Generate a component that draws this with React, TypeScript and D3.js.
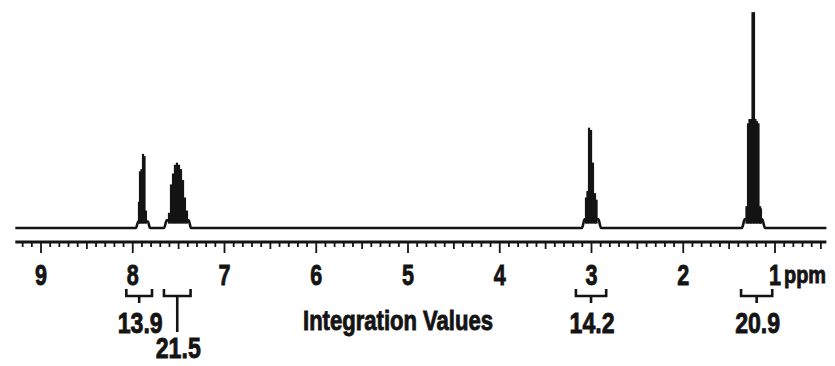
import * as d3 from "d3";
import { useEffect, useRef } from "react";

// axis labels
const tickValues = [9, 8, 7, 6, 5, 4, 3, 2, 1];
const unitLabel = "ppm";

// spectral lines (ppm, relative intensity, tallest = 100)
const linePpm = [
  7.932, 7.921, 7.905, 7.888, 7.872, 7.856,
  7.605, 7.583, 7.561, 7.54, 7.518, 7.496, 7.474, 7.452, 7.431, 7.409,
  3.06, 3.044, 3.027, 3.005, 2.984, 2.962, 2.945,
  1.311, 1.294, 1.278, 1.262, 1.245, 1.229, 1.213, 1.196, 1.18, 1.163, 1.153,
];
const lineHeight = [
  12, 26, 27, 34, 33, 8,
  7, 20, 25, 29, 30, 29, 27, 22, 14, 8,
  14, 17, 46, 45, 30, 16, 13,
  10, 48, 50, 50, 99, 99, 50, 49, 48, 10, 9,
];

// baseline trace with the small humps under each multiplet
const tracePpm = [9.28, 7.965, 7.94, 7.835, 7.812, 7.659, 7.63, 7.39, 7.365, 3.104, 3.075, 2.925, 2.896, 1.36, 1.33, 1.14, 1.109, 0.44];
const traceValue = [0, 0, 3, 3, 0, 0, 3.5, 3.5, 0, 0, 4, 4, 0, 0, 4, 4, 0, 0];

// integrals
const integralFrom = [8.07, 7.66, 3.17, 1.37];
const integralTo = [7.79, 7.37, 2.84, 1.03];
const integralValues = ["13.9", "21.5", "14.2", "20.9"];
const integralTitle = "Integration Values";

const App = () => {
  const svgRef = useRef<SVGSVGElement>(null);

  useEffect(() => {
    const width = 835;
    const height = 366;
    const ink = "#141414";
    const font = "'Liberation Sans', Arial, sans-serif";

    const x = d3.scaleLinear().domain([9, 1]).range([41, 775]);
    const y = d3.scaleLinear().domain([0, 100]).range([228, 10]);
    const axisY = 242;

    const svg = d3
      .select(svgRef.current)
      .attr("width", width)
      .attr("height", height)
      .attr("viewBox", [0, 0, width, height])
      .style("position", "absolute")
      .style("left", "0px")
      .style("top", "0px")
      .style("background", "#fff");

    svg.selectAll("*").remove();

    // baseline trace
    const trace = tracePpm.map((p, i) => [p, traceValue[i]] as [number, number]);
    svg
      .append("path")
      .datum(trace)
      .attr("fill", "none")
      .attr("stroke", ink)
      .attr("stroke-width", 2.6)
      .attr(
        "d",
        d3
          .line<[number, number]>()
          .x((d) => x(d[0]))
          .y((d) => y(d[1]))
          .curve(d3.curveMonotoneX)
      );

    // spectral lines
    svg
      .append("g")
      .attr("stroke", ink)
      .attr("stroke-width", 2.2)
      .selectAll("line")
      .data(linePpm)
      .join("line")
      .attr("x1", (d) => x(d))
      .attr("x2", (d) => x(d))
      .attr("y1", y(2))
      .attr("y2", (d, i) => y(lineHeight[i]));

    // axis
    const axisStart = 9.28;
    const axisEnd = 0.44;
    svg
      .append("line")
      .attr("x1", x(axisStart))
      .attr("x2", x(axisEnd))
      .attr("y1", axisY)
      .attr("y2", axisY)
      .attr("stroke", ink)
      .attr("stroke-width", 3);

    const minor = d3.range(5, 93).map((k) => k / 10);
    svg
      .append("g")
      .attr("stroke", ink)
      .attr("stroke-width", 1.8)
      .selectAll("line")
      .data(minor)
      .join("line")
      .attr("x1", (d) => x(d))
      .attr("x2", (d) => x(d))
      .attr("y1", axisY)
      .attr("y2", (d) => {
        const k = Math.round(d * 10);
        return axisY + (k % 10 === 0 ? 11 : k % 5 === 0 ? 7 : 5);
      });

    // shared heavy text style
    const heavy = (sel: any) =>
      sel
        .attr("fill", ink)
        .attr("stroke", ink)
        .attr("stroke-width", 0.9)
        .attr("font-family", font)
        .attr("font-weight", "bold")
        .attr("lengthAdjust", "spacingAndGlyphs");

    // tick labels
    svg
      .append("g")
      .attr("font-size", 30)
      .attr("text-anchor", "middle")
      .selectAll("text")
      .data(tickValues)
      .join("text")
      .call(heavy)
      .attr("x", (d) => x(d))
      .attr("y", 285)
      .attr("textLength", 12)
      .text((d) => d);

    svg
      .append("text")
      .call(heavy)
      .attr("x", 784)
      .attr("y", 283)
      .attr("font-size", 24)
      .attr("textLength", 42)
      .text(unitLabel);

    // integral brackets
    const bracketY = 296;
    const brackets = svg
      .append("g")
      .attr("fill", "none")
      .attr("stroke", ink)
      .attr("stroke-width", 2.6);

    integralValues.forEach((v, i) => {
      const x0 = x(integralFrom[i]);
      const x1 = x(integralTo[i]);
      const cx = (x0 + x1) / 2;
      const dropped = i === 1; // second label sits one row lower to avoid overlap
      brackets
        .append("path")
        .attr("d", `M${x0},${bracketY - 7}V${bracketY}H${x1}V${bracketY - 7}`);
      brackets
        .append("path")
        .attr("d", `M${cx},${bracketY}V${dropped ? 332 : 303}`);

      svg
        .append("text")
        .call(heavy)
        .attr("x", cx + 1)
        .attr("y", dropped ? 358 : 333)
        .attr("font-size", 30)
        .attr("text-anchor", "middle")
        .attr("textLength", 45)
        .text(v);
    });

    svg
      .append("text")
      .call(heavy)
      .attr("x", 303)
      .attr("y", 330)
      .attr("font-size", 28)
      .attr("textLength", 190)
      .text(integralTitle);
  }, []);

  return <svg ref={svgRef}></svg>;
};

export default App;
